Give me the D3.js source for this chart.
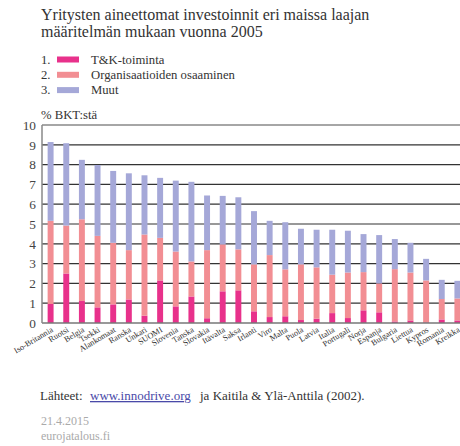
<!DOCTYPE html>
<html>
<head>
<meta charset="utf-8">
<script src="https://cdn.jsdelivr.net/npm/d3@7"></script>
<style>
  body{margin:0;background:#fff;}
  svg text{font-family:"Liberation Serif","Times New Roman",Tinos,"DejaVu Serif",serif !important;}
</style>
</head>
<body>
<svg id="chart" width="460" height="446"></svg>
<script>
// maat ja arvot (% BKT:stä)
const countries = ["Iso-Britannia","Ruotsi","Belgia","Tsekki","Alankomaat","Ranska","Unkari","SUOMI","Slovenia","Tanska","Slovakia","Itävalta","Saksa","Irlanti","Viro","Malta","Puola","Latvia","Italia","Portugali","Norja","Espanja","Bulgaria","Liettua","Kypros","Romania","Kreikka"];
const rd    = [0.96,2.50,1.11,0.79,0.94,1.19,0.37,2.15,0.84,1.34,0.24,1.60,1.65,0.59,0.30,0.34,0.15,0.22,0.50,0.25,0.64,0.54,0.08,0.13,0.03,0.18,0.13];
const org   = [4.20,2.42,4.13,3.61,3.11,2.49,4.10,2.15,2.77,1.77,3.44,2.37,2.07,2.37,3.13,2.37,2.81,2.59,1.94,2.30,1.93,1.46,2.64,2.42,2.12,1.03,1.11];
const other = [3.98,4.16,3.00,3.58,3.63,3.88,2.99,3.03,3.58,4.02,2.76,2.45,2.63,2.69,1.73,2.38,1.80,1.90,2.27,2.11,1.92,2.44,1.52,1.50,1.09,0.97,0.89];
const seriesNames = ["T&K-toiminta","Organisaatioiden osaaminen","Muut"];
const colors = ["#e8318b","#f28e93","#a5a8d8"];
const yTicks = [0,1,2,3,4,5,6,7,8,9,10];

const svg = d3.select("#chart");
const plotLeft = 42, plotRight = 466, plotTop = 125, plotBottom = 323;

const x = d3.scaleBand().domain(countries).range([plotLeft, plotRight]).paddingInner(0.62).paddingOuter(0.36);
const y = d3.scaleLinear().domain([0,10]).range([plotBottom, plotTop]);

// otsikko
svg.append("text").attr("x",41).attr("y",19.5).attr("font-size",16).attr("fill","#333")
  .text("Yritysten aineettomat investoinnit eri maissa laajan");
svg.append("text").attr("x",41).attr("y",36.5).attr("font-size",16).attr("fill","#333")
  .text("määritelmän mukaan vuonna 2005");

// selite
const leg = svg.append("g");
seriesNames.forEach((name, i) => {
  const yy = 63.5 + i*15.3;
  leg.append("text").attr("x",41).attr("y",yy).attr("font-size",12.7).attr("fill","#333").text((i+1)+".");
  leg.append("rect").attr("x",57).attr("y",yy-7).attr("width",22).attr("height",6).attr("fill",colors[i]);
  leg.append("text").attr("x",91).attr("y",yy).attr("font-size",12.7).attr("fill","#333").text(name);
});

svg.append("text").attr("x",41).attr("y",119).attr("font-size",12.7).attr("fill","#333").text("% BKT:stä");

// ruudukko
svg.append("g").selectAll("line").data(yTicks.slice(1,10)).join("line")
  .attr("x1",plotLeft).attr("x2",plotRight).attr("y1",d=>y(d)).attr("y2",d=>y(d))
  .attr("stroke","#333").attr("stroke-width",1.2);

// pinotut palkit
const stackData = countries.map((c,i) => ({country:c, rd:rd[i], org:org[i], other:other[i]}));
const stack = d3.stack().keys(["rd","org","other"])(stackData);
svg.append("g").selectAll("g").data(stack).join("g")
  .attr("fill",(d,i)=>colors[i])
  .selectAll("rect").data(d=>d).join("rect")
  .attr("x",d=>x(d.data.country))
  .attr("width",x.bandwidth())
  .attr("y",d=>y(d[1]))
  .attr("height",d=>y(d[0])-y(d[1]));

// kehys
svg.append("line").attr("x1",plotLeft).attr("x2",plotRight).attr("y1",y(10)).attr("y2",y(10)).attr("stroke","#888").attr("stroke-width",1.5);
svg.append("line").attr("x1",plotLeft).attr("x2",plotRight).attr("y1",y(0)).attr("y2",y(0)).attr("stroke","#777").attr("stroke-width",1.5);
svg.append("line").attr("x1",plotLeft).attr("x2",plotLeft).attr("y1",y(10)).attr("y2",y(0)).attr("stroke","#888").attr("stroke-width",1.5);

// y-akselin numerot
const yAxis = d3.axisLeft(y).tickValues(yTicks).tickSize(0).tickPadding(6);
const ya = svg.append("g").attr("transform",`translate(${plotLeft},0)`).call(yAxis);
ya.select(".domain").remove();
ya.selectAll("text").attr("font-size",13.3).attr("fill","#444");

// maiden nimet
svg.append("g").selectAll("text").data(countries).join("text")
  .attr("transform",d=>`translate(${x(d)+x.bandwidth()/2+1},${plotBottom+5}) rotate(-31)`)
  .attr("text-anchor","end").attr("dy","0.45em")
  .attr("font-size",8.3).attr("fill","#333")
  .text(d=>d);

// lähteet
const src = svg.append("text").attr("x",40).attr("y",400).attr("font-size",13).attr("fill","#333");
src.append("tspan").text("Lähteet:");
src.append("tspan").attr("x",90).attr("fill","#4a4aa8").attr("text-decoration","underline").text("www.innodrive.org");
src.append("tspan").attr("x",200).text("ja Kaitila & Ylä-Anttila (2002).");

svg.append("text").attr("x",41).attr("y",425).attr("font-size",12).attr("fill","#aaa").text("21.4.2015");
svg.append("text").attr("x",41).attr("y",440).attr("font-size",12).attr("fill","#aaa").text("eurojatalous.fi");
</script>
</body>
</html>
